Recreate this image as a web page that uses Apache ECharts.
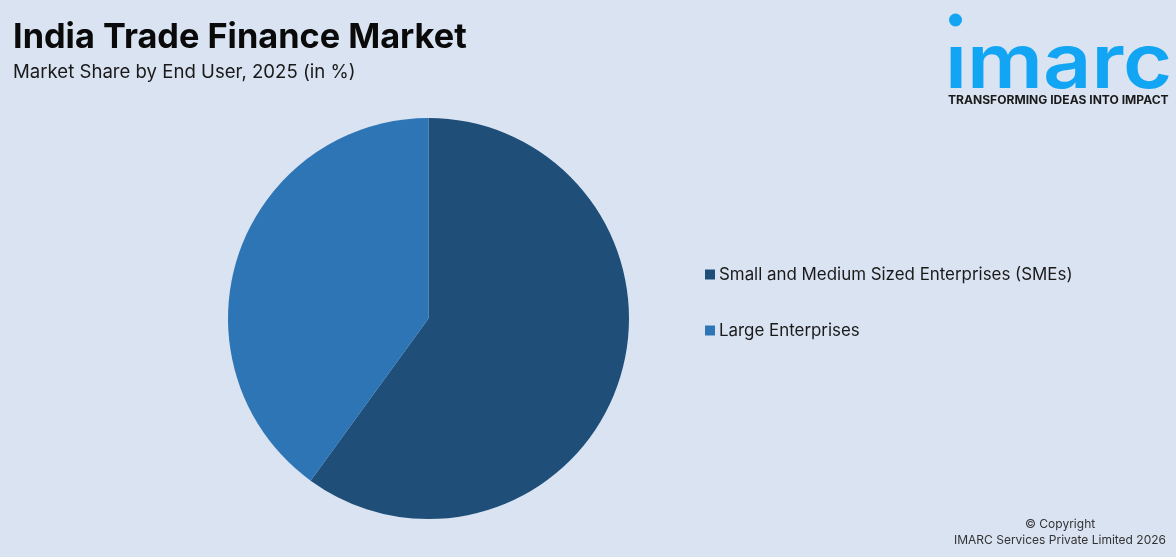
<!DOCTYPE html>
<html>
<head>
<meta charset="utf-8">
<title>India Trade Finance Market</title>
<script src="https://cdn.jsdelivr.net/npm/echarts@6/dist/echarts.min.js"></script>
<style>
    html, body { margin: 0; padding: 0; background: #d9e3f1; }
    #container { width: 1176px; height: 557px; }
</style>
</head>
<body>
<div id="container"></div>
<script>
var categories = ['Small and Medium Sized Enterprises (SMEs)', 'Large Enterprises'];
var shares = [60, 40];
var colors = ['#1f4e79', '#2e75b6'];

var pieData = [];
for (var i = 0; i < categories.length; i++) {
    pieData.push({ name: categories[i], value: shares[i], itemStyle: { color: colors[i] } });
}

var myChart = echarts.init(document.getElementById('container'), null, { renderer: 'canvas' });
var option = {
    backgroundColor: '#d9e3f1',
    animation: false,
    textStyle: { fontFamily: 'Inter' },
    title: [
        { text: 'India Trade Finance Market', left: 13, top: 21, padding: 0,
          textStyle: { fontFamily: 'Inter', fontSize: 34.3, fontWeight: 700, color: '#0a0a0a' } },
        { text: 'Market Share by End User, 2025 (in %)', left: 13, top: 63, padding: 0,
          textStyle: { fontFamily: 'Inter', fontSize: 18.6, fontWeight: 400, color: '#1a1a1a' } }
    ],
    legend: {
        orient: 'vertical',
        left: 705,
        top: 264,
        padding: 0,
        itemWidth: 10,
        itemHeight: 10,
        itemGap: 35,
        icon: 'rect',
        textStyle: { fontFamily: 'Inter', fontSize: 16.9, color: '#1a1a1a', padding: [0, 0, 0, -1], lineHeight: 21 },
        data: categories
    },
    series: [{
        type: 'pie',
        center: [428.5, 318.5],
        radius: [0, 200.5],
        startAngle: 90,
        clockwise: true,
        label: { show: false },
        labelLine: { show: false },
        data: pieData
    }],
    graphic: [
        { type: 'circle', shape: { cx: 955.5, cy: 20, r: 6.5 }, style: { fill: '#12a5f4' } },
        { type: 'text', x: 945, y: 27, scaleX: 1.11, style: { text: '\u0131marc', fontFamily: 'Inter', fontSize: 76, fontWeight: 600, fill: '#12a5f4' } },
        { type: 'text', x: 948, y: 94.5, scaleX: 1.05, style: { text: 'TRANSFORMING IDEAS INTO IMPACT', fontFamily: 'Inter', fontSize: 11.5, fontWeight: 700, fill: '#1a1a1a' } },
        { type: 'text', left: 1025, top: 518, style: { text: '\u00a9 Copyright', fontFamily: 'Inter', fontSize: 12, fill: '#333333' } },
        { type: 'text', left: 954, top: 534, style: { text: 'IMARC Services Private Limited 2026', fontFamily: 'Inter', fontSize: 12, fill: '#333333' } }
    ]
};
myChart.setOption(option);
</script>
</body>
</html>
